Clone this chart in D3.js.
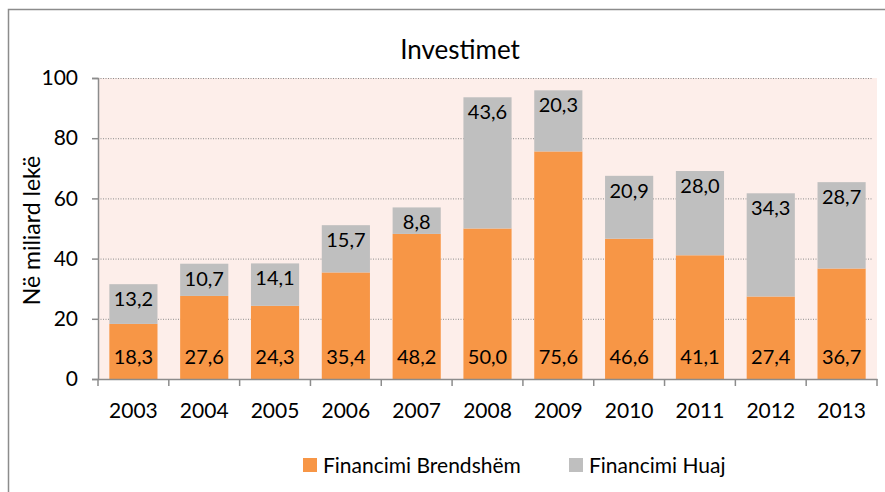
<!DOCTYPE html>
<html>
<head>
<meta charset="utf-8">
<script src="https://cdn.jsdelivr.net/npm/d3@7"></script>
<style>
	body { margin: 0; background: #fff; }
	text { font-family: Lato, "Open Sans", sans-serif; fill: #000; }
</style>
</head>
<body>
<div id="chart"></div>
<script>
(function() {
	var years = ["2003", "2004", "2005", "2006", "2007", "2008", "2009", "2010", "2011", "2012", "2013"]
	var brendshem = [18.3, 27.6, 24.3, 35.4, 48.2, 50.0, 75.6, 46.6, 41.1, 27.4, 36.7]
	var huaj = [13.2, 10.7, 14.1, 15.7, 8.8, 43.6, 20.3, 20.9, 28.0, 34.3, 28.7]
	var yTicks = [0, 20, 40, 60, 80, 100]
	var seriesNames = ["Financimi Brendshëm", "Financimi Huaj"]
	var colors = ["#f79646", "#bfbfbf"]

	var W = 885, H = 492
	var margin = { top: 78, left: 98, right: 8, bottom: 113 }
	var width = W - margin.left - margin.right
	var height = H - margin.top - margin.bottom

	var svg = d3.select("#chart")
		.append("svg")
		.attr("width", W)
		.attr("height", H)

	// outer frame
	svg.append("rect")
		.attr("x", 8.5).attr("y", 9.5)
		.attr("width", W).attr("height", H)
		.attr("fill", "none")
		.attr("stroke", "#8c8c8c")
		.attr("stroke-width", 1.5)

	var g = svg.append("g")
		.attr("transform", "translate(" + margin.left + "," + margin.top + ")")

	var x = d3.scaleBand()
		.domain(years)
		.range([0, width])
		.paddingInner(0.32)
		.paddingOuter(0.16)

	var y = d3.scaleLinear()
		.domain([0, 100])
		.range([height, 0])

	// plot background
	g.append("rect")
		.attr("width", width)
		.attr("height", height)
		.attr("fill", "#fdeeea")

	// gridlines
	g.selectAll(".grid")
		.data(yTicks.slice(1))
		.enter().append("line")
		.attr("x1", 0).attr("x2", width - 4)
		.attr("y1", function(d) { return y(d) + 0.5 })
		.attr("y2", function(d) { return y(d) + 0.5 })
		.attr("stroke", "#8c8c8c")
		.attr("stroke-dasharray", "1,1.5")

	var data = years.map(function(yr, i) {
		return { year: yr, a: brendshem[i], b: huaj[i] }
	})

	var stack = d3.stack().keys(["a", "b"])(data)

	var layers = g.selectAll(".layer")
		.data(stack)
		.enter().append("g")
		.attr("fill", function(d, i) { return colors[i] })

	layers.selectAll("rect")
		.data(function(d) { return d })
		.enter().append("rect")
		.attr("x", function(d) { return x(d.data.year) })
		.attr("width", x.bandwidth())
		.attr("y", function(d) { return y(d[1]) })
		.attr("height", function(d) { return y(d[0]) - y(d[1]) })

	var fmt = function(v) { return v.toFixed(1).replace(".", ",") }

	// labels: inside base for domestic, inside end for foreign
	g.selectAll(".lblA")
		.data(data)
		.enter().append("text")
		.attr("x", function(d) { return x(d.year) + x.bandwidth() / 2 })
		.attr("y", height - 22)
		.attr("dy", "0.35em")
		.attr("text-anchor", "middle")
		.style("font-size", "20px")
		.text(function(d) { return fmt(d.a) })

	g.selectAll(".lblB")
		.data(data)
		.enter().append("text")
		.attr("x", function(d) { return x(d.year) + x.bandwidth() / 2 })
		.attr("y", function(d) { return y(d.a + d.b) + 15 })
		.attr("dy", "0.35em")
		.attr("text-anchor", "middle")
		.style("font-size", "20px")
		.text(function(d) { return fmt(d.b) })

	// axes
	var yAxis = g.append("g")
		.call(d3.axisLeft(y).tickValues(yTicks).tickSize(6).tickPadding(14))
	yAxis.select(".domain").attr("stroke", "#8c8c8c").attr("stroke-width", 1.5)
	yAxis.selectAll(".tick line").attr("stroke", "#8c8c8c").attr("stroke-width", 1.5)
	yAxis.selectAll(".tick text").style("font-size", "21px").style("font-family", "Lato, sans-serif")

	var xAxis = g.append("g")
		.attr("transform", "translate(0," + height + ")")
		.call(d3.axisBottom(x).tickSize(0).tickPadding(24))
	xAxis.select(".domain").attr("stroke", "#8c8c8c").attr("stroke-width", 1.5)
	xAxis.selectAll(".tick text").style("font-size", "21px").style("font-family", "Lato, sans-serif")

	// category separators
	g.selectAll(".sep")
		.data(d3.range(years.length + 1))
		.enter().append("line")
		.attr("x1", function(i) { return i * x.step() })
		.attr("x2", function(i) { return i * x.step() })
		.attr("y1", height).attr("y2", height + 7)
		.attr("stroke", "#8c8c8c")
		.attr("stroke-width", 1.5)

	// title
	svg.append("text")
		.attr("x", 460).attr("y", 59)
		.attr("text-anchor", "middle")
		.style("font-size", "26px")
		.text("Investimet")

	// y title
	svg.append("text")
		.attr("transform", "translate(40," + (margin.top + height / 2 + 2) + ") rotate(-90)")
		.attr("text-anchor", "middle")
		.style("font-size", "23px")
		.text("Në miliard lekë")

	// legend
	var legendX = [303, 569]
	var legend = svg.selectAll(".legend")
		.data(seriesNames)
		.enter().append("g")
		.attr("transform", function(d, i) { return "translate(" + legendX[i] + ",458)" })
	legend.append("rect")
		.attr("width", 14).attr("height", 14)
		.attr("fill", function(d, i) { return colors[i] })
	legend.append("text")
		.attr("x", 20).attr("y", 8)
		.attr("dy", "0.35em")
		.style("font-size", "21px")
		.text(function(d) { return d })
})();
</script>
</body>
</html>
